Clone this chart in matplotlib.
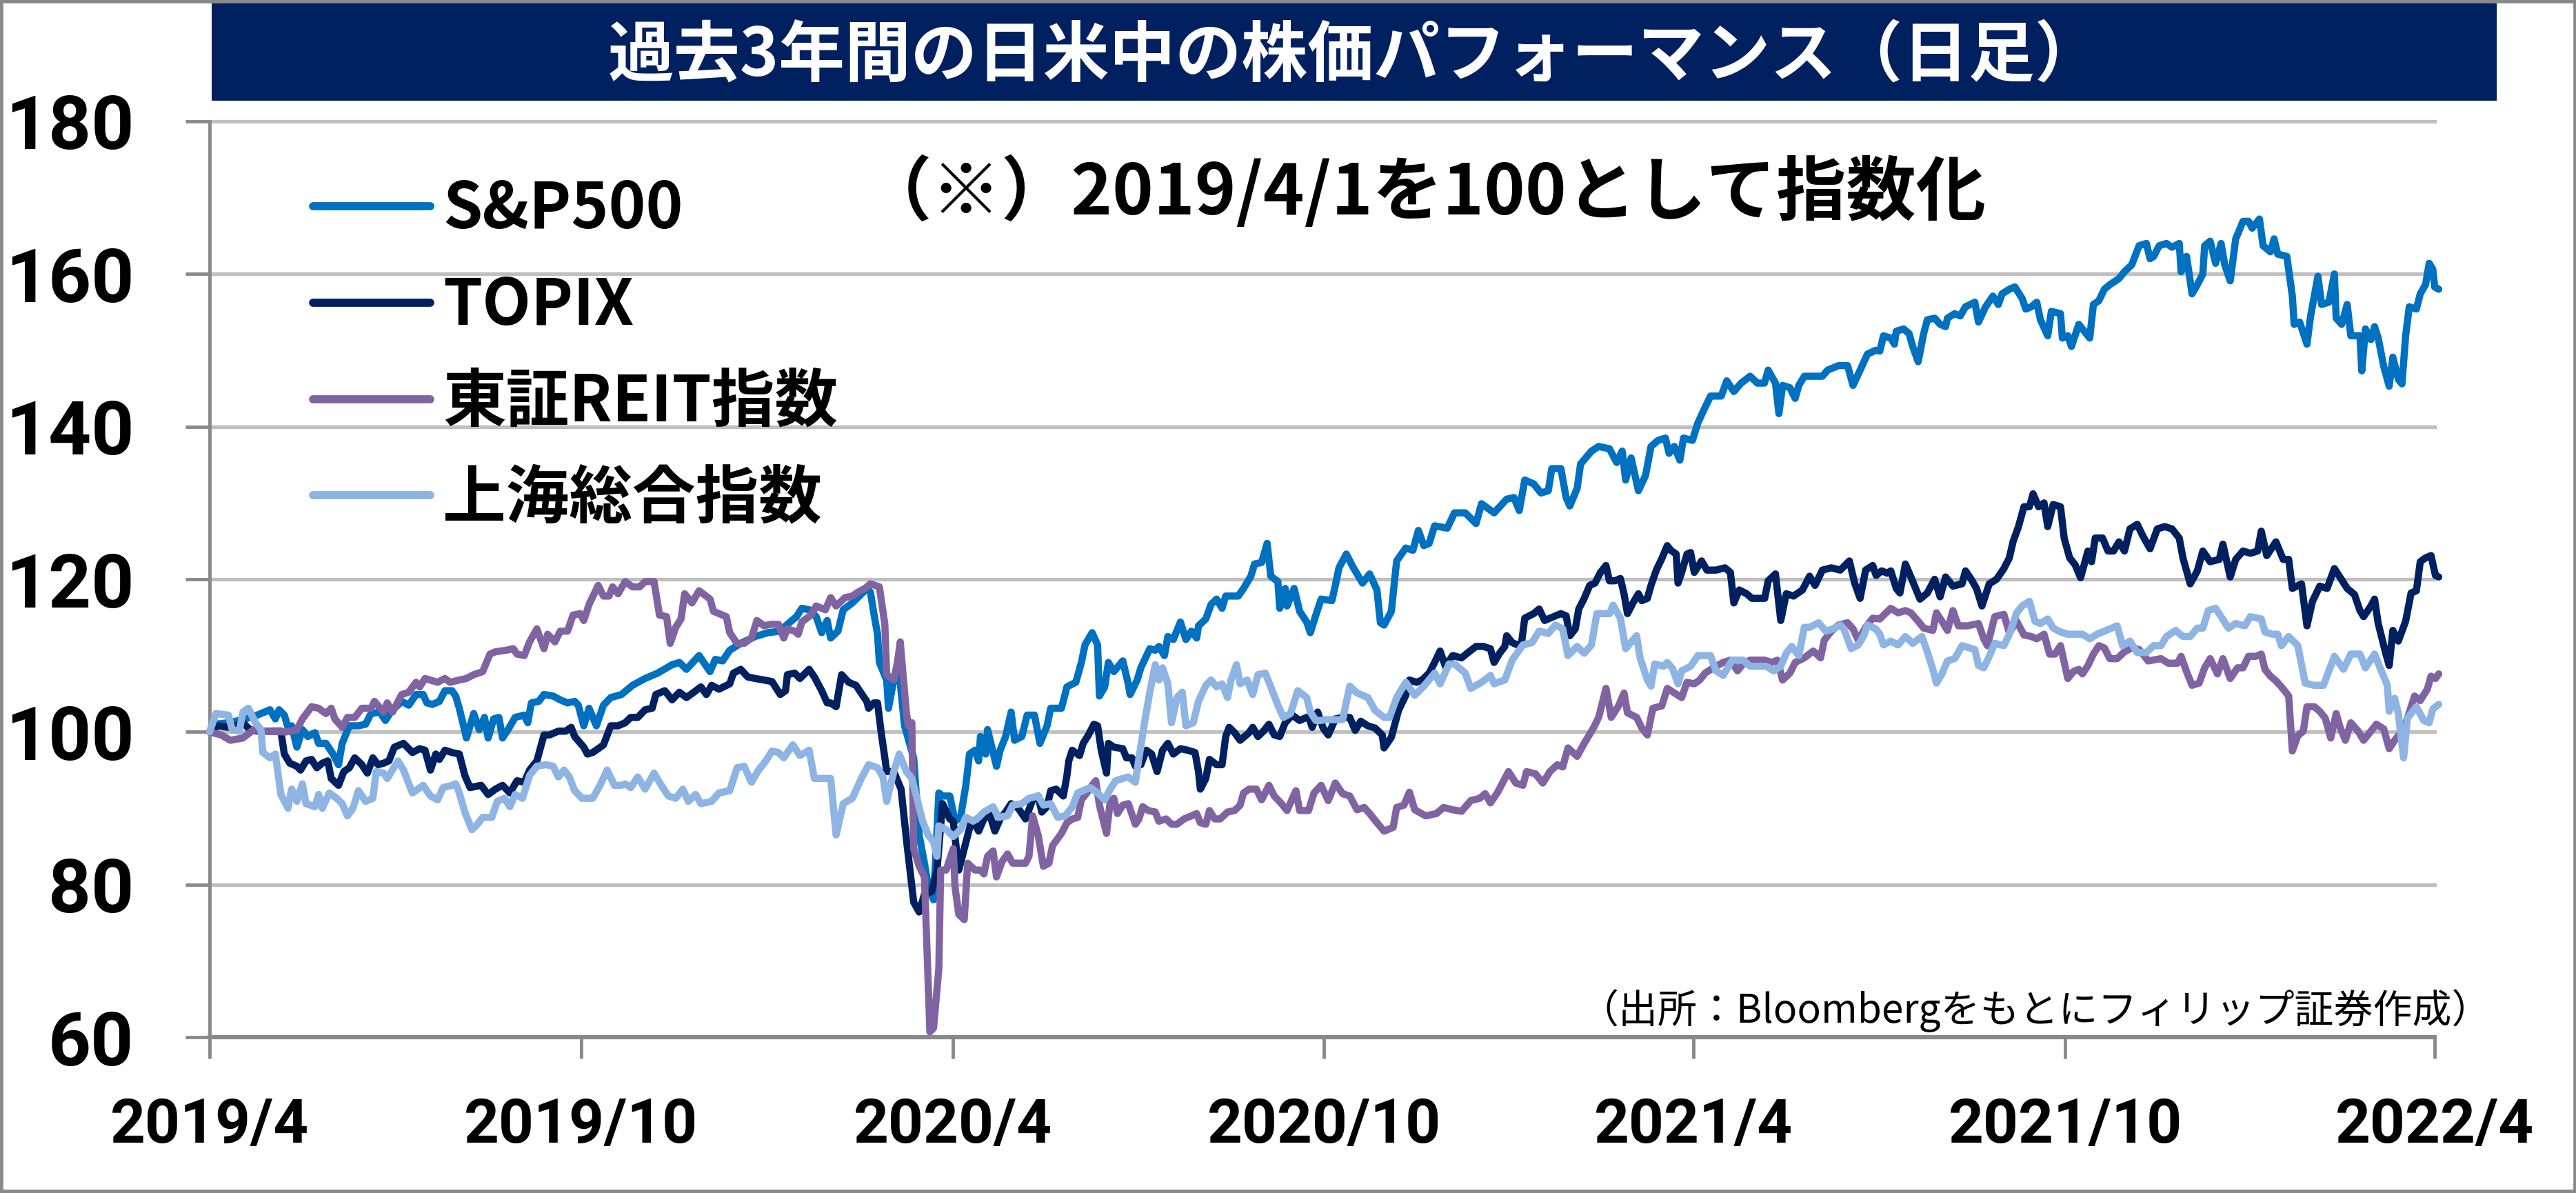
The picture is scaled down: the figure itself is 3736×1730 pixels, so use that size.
import matplotlib
matplotlib.use("Agg")
import matplotlib.pyplot as plt
from matplotlib.patches import Rectangle
from matplotlib.font_manager import FontProperties
import pandas as pd

# ---------------- data (day offset from START, index value) ----------------
START = "2019-04-01"
SERIES_NAMES = ["S&P500", "TOPIX", "東証REIT指数", "上海総合指数"]
SERIES_COLORS = ["#0070C0", "#002060", "#8064A2", "#8EB4E3"]

SP500 = [
(0,100.0),(2.2,101.0),(9.3,101.2),(16.4,101.6),(23.5,102.2),(29.7,102.9),(32.4,101.7),(34.2,102.9),(36.8,102.2),(38.6,100.6),
(40.4,100.8),(43.0,98.0),(45.7,100.3),(48.4,99.4),(51.9,99.9),(53.7,98.5),(57.3,98.5),(60.8,97.1),(63.5,95.7),(65.3,98.5),
(68.8,100.8),(73.3,100.8),(76.8,101.0),(79.5,102.4),(83.9,102.6),(86.6,101.5),(89.2,102.6),(94.6,104.0),(98.1,103.5),(101.7,104.9),
(105.2,104.9),(107.0,103.8),(109.7,103.6),(113.2,104.0),(115.9,105.4),(119.4,105.4),(121.2,104.7),(123.0,103.1),(126.5,99.2),(130.1,102.4),
(132.8,100.3),(135.4,101.9),(137.2,99.2),(139.9,101.7),(142.5,101.9),(144.3,99.2),(147.0,100.3),(150.5,101.9),(155.0,102.2),(156.7,101.2),
(158.5,103.8),(162.1,104.0),(164.7,104.9),(169.2,104.7),(172.7,104.2),(176.3,103.8),(179.8,104.0),(181.6,103.5),(184.3,100.8),(186.9,103.1),
(190.5,100.8),(194.0,103.5),(197.6,104.5),(202.9,104.9),(208.3,106.1),(214.5,107.0),(220.7,107.7),(227.8,108.8),(231.4,109.1),(234.9,108.2),
(241.1,110.0),(246.5,107.9),(249.1,109.5),(252.7,109.3),(256.2,110.7),(261.6,111.6),(268.7,112.5),(275.0,113.0),
(281.1,113.2),(284.6,114.1),(289.1,115.1),(291.7,116.2),(295.3,116.0),(298.8,115.1),(301.5,113.0),(304.2,114.6),(305.9,112.3),(309.5,113.2),
(312.1,116.0),(316.6,116.9),(321.9,118.3),(323.7,118.8),(325.5,118.3),(327.2,115.5),(329.0,112.8),(329.9,109.1),(333.5,106.8),(334.4,103.1),
(337.0,106.8),(339.7,107.7),(342.3,100.8),(346.8,96.6),(349.5,86.5),(352.1,82.8),(353.9,80.0),(356.6,78.0),(359.2,92.0),(361.0,91.6),
(364.6,91.6),(367.2,88.3),(369.9,88.8),(372.5,93.0),(374.3,97.1),(377.0,97.6),(378.8,96.2),(379.7,99.4),(382.3,97.1),(383.2,100.3),
(387.6,95.5),(389.4,97.6),(392.1,99.4),(394.8,102.6),(396.5,98.9),(400.1,99.4),(402.7,102.2),(406.3,102.2),(409.0,98.5),(412.5,100.8),
(414.3,103.1),(419.6,103.1),(422.3,105.9),(426.7,106.5),(429.4,109.1),(431.2,111.4),(434.7,113.0),(437.4,111.4),(438.3,104.7),(440.9,105.9),
(442.7,109.1),(445.4,107.9),(449.8,109.3),(452.5,106.3),(453.4,104.9),(456.9,106.8),(458.7,108.4),(463.1,110.9),(465.8,110.7),(467.6,111.2),
(470.3,110.0),(472.0,112.5),(474.7,112.1),(478.2,114.4),(480.9,112.1),(483.6,113.2),(486.2,112.3),(487.1,113.9),(490.7,114.8),(493.3,116.7),
(496.0,117.4),(498.7,116.2),(500.5,117.8),(506.7,117.8),(509.3,118.8),(512.9,120.4),(514.7,122.0),(518.2,122.2),(520.9,124.7),(522.7,120.4),
(526.2,119.7),(527.1,116.2),(529.8,118.8),(530.7,116.5),(534.2,118.8),(536.9,115.8),(540.4,114.4),(542.2,113.0),(544.9,115.3),(547.5,117.4),
(552.8,117.2),(554.5,119.2),(556.3,121.5),(559.9,123.3),(563.4,121.5),(567.9,119.5),(571.4,120.7),(575.0,118.6),(576.7,114.3),(578.5,114.0),
(582.1,115.8),(584.7,122.4),(589.2,124.1),(592.7,123.8),(595.4,126.4),(598.1,124.4),(600.7,124.7),(603.4,127.0),(609.6,126.7),(613.2,128.7),
(618.5,128.7),(623.8,127.3),(626.5,129.9),(632.7,128.7),(638.9,130.5),(642.5,130.7),(645.1,129.0),(647.8,133.0),(652.2,132.5),(655.8,131.3),
(659.4,131.6),(661.1,134.5),(665.6,134.5),(668.2,130.7),(670.0,129.6),(673.6,131.9),(675.3,135.1),(680.7,136.8),(684.2,137.4),(689.5,137.1),
(693.1,135.3),(695.8,136.8),(697.5,133.0),(700.2,135.9),(703.8,131.6),(707.3,133.6),(710.0,137.4),(713.5,138.2),(717.1,138.5),(718.9,136.5),
(721.5,137.4),(724.2,135.6),(726.0,138.5),(730.4,138.2),(733.1,140.5),(735.7,142.0),(739.3,144.0),(744.6,144.0),(747.3,146.0),(750.8,144.6),
(754.4,145.7),(758.8,146.6),(762.4,145.7),(765.9,145.7),(767.7,147.4),(771.3,145.7),(773.0,141.7),(774.8,145.4),(778.4,145.1),(781.0,143.7),
(782.8,145.4),(785.5,146.6),(794.4,146.6),(797.0,147.4),(802.4,148.0),(806.8,148.0),(809.5,145.4),(813.0,147.4),(816.6,149.5),(820.7,150.0),
(822.7,149.9),(824.5,151.9),(828.1,151.6),(829.9,150.8),(830.8,152.5),(834.4,152.8),(837.1,152.2),(838.9,150.5),(841.6,148.5),(844.3,152.2),
(846.1,154.0),(849.7,154.2),(852.4,153.4),(855.1,153.1),(856.0,154.2),(859.6,154.8),(862.3,154.5),(864.9,155.7),(869.5,156.3),(871.3,153.7),
(874.8,155.7),(878.4,157.1),(881.1,156.0),(882.9,157.4),(886.5,158.0),(889.2,158.3),(892.8,156.8),(894.6,155.4),(897.3,155.7),(900.0,156.3),
(901.8,154.0),(905.4,151.9),(907.2,155.1),(911.7,154.8),(912.6,151.6),(915.3,151.9),(917.1,150.5),(920.7,153.4),(923.4,152.5),(926.1,151.6),
(927.9,156.0),(930.6,156.5),(933.3,158.0),(936.0,158.6),(940.5,159.4),(943.2,160.3),(946.8,161.2),(950.4,163.7),(954.0,164.0),(955.8,162.0),
(957.6,162.3),(960.3,163.7),(963.9,164.0),(966.6,163.5),(970.2,164.0),(971.1,160.3),(973.8,162.3),(976.5,157.4),(979.1,158.6),(981.8,160.0),
(982.7,163.7),(985.4,164.3),(988.1,161.4),(990.8,164.0),(992.6,161.2),(995.3,159.1),(998.0,164.6),(1001.6,166.9),(1004.3,166.9),(1006.1,166.0),
(1009.7,167.2),(1011.5,163.7),(1015.1,162.9),(1016.9,164.6),(1018.7,162.6),(1023.2,162.3),(1025.9,157.1),(1026.8,153.4),(1029.5,153.7),(1033.1,150.8),
(1034.9,154.5),(1038.5,159.7),(1040.3,156.0),(1043.9,156.3),(1046.6,160.0),(1047.5,154.2),(1050.2,153.4),(1052.9,156.0),(1054.7,151.9),(1059.2,151.9),
(1060.1,147.3),(1061.9,152.8),(1064.6,151.4),(1066.4,153.1),(1068.2,151.6),(1070.9,147.9),(1073.6,145.3),(1075.4,149.1),(1078.1,146.2),(1079.9,145.6),
(1081.7,151.9),(1083.5,155.7),(1087.0,155.4),(1088.9,157.4),(1091.5,158.6),(1093.3,161.4),(1095.1,160.6),(1096.0,158.3),(1098.0,158.0),
]

TOPIX = [
(0,100.0),(4.0,100.8),(9.3,100.6),(12.8,100.8),(16.4,101.2),(19.9,100.3),(23.5,100.1),(30.6,100.1),(35.1,100.1),(36.8,97.1),
(39.5,95.9),(43.0,95.5),(44.8,95.0),(47.5,96.2),(50.2,96.4),(52.8,95.3),(55.5,95.9),(58.2,96.2),(59.9,93.9),(63.5,93.0),
(66.1,94.8),(68.8,95.3),(71.5,96.6),(75.0,95.7),(77.7,94.6),(80.4,96.6),(83.0,95.7),(85.7,95.9),(88.3,96.2),(91.0,98.0),
(95.5,98.5),(99.9,97.3),(103.4,97.8),(106.1,97.6),(108.8,95.0),(111.4,97.1),(113.2,96.4),(115.9,97.6),(119.4,97.3),(123.0,97.1),
(125.7,94.3),(128.3,92.7),(133.7,93.0),(137.2,91.8),(140.8,92.5),(144.3,93.0),(147.9,92.0),(151.4,93.6),(155.0,93.4),(157.6,95.0),
(161.2,96.2),(164.7,99.6),(167.4,99.6),(171.8,100.1),(175.4,100.1),(178.1,100.6),(179.8,99.4),(184.3,98.0),(186.1,97.1),(188.7,97.3),
(191.4,97.8),(194.0,98.3),(197.6,100.8),(201.2,100.8),(204.7,101.2),(207.4,101.9),(210.9,101.9),(214.5,102.9),(218.0,103.1),(219.8,104.9),
(224.2,105.4),(227.8,104.2),(231.4,105.2),(234.9,104.5),(238.5,105.2),(242.0,105.9),(244.7,104.9),(247.3,106.1),(250.9,105.6),(256.2,106.3),
(258.0,107.7),(261.6,108.2),(265.1,107.2),(268.7,107.0),(273.1,106.8),(277.0,106.6),
(281.1,104.9),(283.7,105.4),(284.6,107.5),(288.2,107.7),(290.8,107.0),(295.3,108.2),(297.9,107.2),(301.5,105.4),(304.2,103.8),(305.9,103.8),
(308.6,103.3),(311.3,107.5),(314.8,106.5),(318.4,106.1),(321.9,104.7),(323.7,104.0),(324.6,103.1),(327.2,103.8),(329.0,103.8),(330.8,99.9),
(332.6,96.6),(333.5,94.8),(337.0,94.8),(340.6,92.5),(343.2,86.0),(346.8,77.7),(349.5,76.4),(352.1,78.7),(355.7,79.1),(358.3,81.9),
(361.0,90.6),(364.6,88.6),(366.3,88.3),(369.0,81.9),(371.7,84.7),(375.2,88.3),(377.0,87.9),(378.8,87.0),(381.4,88.6),(384.1,89.3),
(386.8,87.0),(389.4,88.6),(392.1,89.5),(394.8,90.6),(398.3,90.0),(401.9,88.6),(405.4,91.1),(408.1,91.6),(409.9,89.5),(412.5,90.2),
(414.3,92.3),(417.0,92.5),(420.5,91.6),(422.3,94.3),(423.2,96.2),(424.9,97.6),(428.5,96.9),(430.3,98.5),(432.9,99.6),(435.6,101.0),
(437.4,100.8),(439.2,97.6),(441.8,94.6),(442.7,98.5),(445.4,98.0),(449.8,97.8),(451.6,96.6),(454.3,96.6),(456.0,95.5),(458.7,95.7),
(461.4,97.6),(464.0,97.1),(466.7,94.8),(469.4,97.6),(472.0,98.5),(474.7,97.1),(478.2,97.8),(481.8,97.6),(485.4,97.3),(487.1,94.8),
(488.0,92.5),(490.7,93.9),(492.5,96.4),(496.0,95.7),(498.7,95.7),(500.5,99.4),(502.2,100.6),(504.9,99.9),(507.6,98.9),(512.0,99.9),
(513.8,100.6),(516.4,99.4),(519.1,100.1),(521.8,101.0),(524.4,99.6),(527.1,99.4),(529.8,101.2),(533.3,102.2),(536.9,101.5),(541.3,102.0),
(543.1,100.6),(545.8,102.6),(548.5,100.5),
(551.0,99.6),(554.5,101.7),(558.1,101.9),(561.6,101.9),(564.3,100.2),(567.0,101.4),(570.5,100.8),(574.1,100.5),(577.6,99.6),(578.5,97.9),
(582.1,99.3),(585.6,102.8),(589.2,104.8),(591.0,106.8),(594.5,106.5),(597.2,106.8),(600.7,107.7),(603.4,109.1),(606.1,110.6),(608.7,108.6),
(612.3,110.0),(616.7,109.7),(619.4,110.3),(623.8,111.2),(627.4,111.2),(630.9,110.9),(632.7,109.1),(635.4,110.3),(638.0,111.2),(638.9,112.6),
(641.6,111.7),(646.0,111.2),(647.8,114.9),(652.2,115.5),(654.9,116.1),(657.6,114.6),(660.2,114.9),(665.6,115.5),(668.2,115.2),(670.0,112.6),
(672.7,113.5),(674.4,116.1),(677.1,117.5),(679.8,119.2),(682.4,119.5),(685.1,120.9),(687.8,121.8),(689.5,119.8),(692.2,119.8),(694.9,120.1),
(696.7,118.1),(698.4,115.5),(701.1,116.9),(703.8,118.1),(705.5,117.2),(708.2,117.5),(710.0,119.2),(712.6,121.2),(715.3,122.7),(718.0,124.4),
(719.7,123.8),(722.4,123.3),(723.3,119.5),(725.1,120.9),(727.7,123.3),(729.5,123.5),(731.3,120.9),(734.9,122.4),(737.5,121.2),(742.0,121.2),
(746.4,121.5),(749.1,120.9),(750.8,116.9),(753.5,118.6),(757.1,118.1),(759.7,117.5),(766.0,117.5),(767.7,119.8),(771.3,120.7),(773.9,114.6),
(776.6,118.1),(780.2,117.8),(784.6,118.6),(788.1,120.4),(790.8,119.2),(794.4,121.2),(798.8,121.5),(803.2,121.2),(807.7,122.4),(810.3,119.5),
(813.0,117.5),(815.7,121.2),(819.2,121.8),
(820.9,120.5),(823.6,121.1),(826.3,120.8),(828.1,121.1),(830.8,118.8),(832.6,118.2),(835.3,122.0),(838.0,120.3),(842.5,117.4),(846.1,118.2),
(849.7,120.0),(852.4,117.7),(855.1,120.3),(858.7,119.1),(863.2,119.4),(864.9,121.1),(867.7,120.0),(870.3,118.8),(873.0,116.5),(876.6,119.4),
(880.2,120.0),(883.8,121.4),(886.5,122.8),(888.3,124.9),(891.0,126.9),(893.7,129.5),(896.4,129.5),(898.2,131.2),(900.9,129.5),(903.6,130.0),
(905.4,126.9),(908.1,129.8),(911.7,129.5),(913.5,125.4),(916.2,122.8),(918.9,121.9),(921.6,120.2),(925.2,123.7),(927.0,122.3),(928.8,125.4),
(932.4,125.4),(935.1,123.7),(937.8,123.7),(940.5,124.9),(943.2,123.7),(945.9,126.6),(949.5,127.2),(952.2,125.7),(955.8,124.0),(959.4,126.6),
(963.0,126.9),(966.6,126.6),(970.2,125.4),(972.0,122.8),(975.6,119.4),(979.1,121.1),(981.8,123.7),(985.4,122.3),(989.9,122.6),(991.7,124.6),
(995.3,120.3),(998.0,122.6),(1001.6,123.7),(1005.2,123.4),(1008.8,123.7),(1010.6,126.3),(1013.3,123.1),(1017.8,124.9),(1021.4,122.6),(1024.1,122.6),
(1025.9,118.8),(1030.4,119.4),(1033.1,113.9),(1035.8,117.1),(1039.4,119.1),(1043.0,118.8),(1046.6,121.4),(1049.3,120.3),(1052.9,118.8),(1056.5,118.0),
(1059.2,115.9),(1061.0,115.1),(1064.6,116.5),(1066.4,117.4),(1068.2,114.2),(1071.8,110.4),(1073.6,108.7),(1075.4,113.3),(1078.1,111.9),(1081.7,114.5),
(1084.4,118.2),(1087.0,118.5),(1088.9,122.3),(1091.5,122.8),(1094.2,123.1),(1096.4,120.5),(1098.0,120.3),
]

REIT = [
(0,100.0),(5.7,99.6),(10.2,98.9),(16.4,99.2),(21.7,100.3),(25.3,100.1),(37.7,100.0),(43.0,100.3),(45.7,101.7),(50.2,103.3),
(53.7,103.1),(57.3,102.4),(59.9,103.1),(61.7,101.7),(65.3,100.6),(67.9,101.9),(71.5,101.9),(75.0,103.1),(79.5,103.1),(81.2,104.0),
(85.7,102.6),(87.5,103.8),(90.1,102.6),(94.6,104.9),(98.1,105.2),(101.7,106.5),(103.5,105.9),(106.1,107.0),(112.3,106.5),(115.9,107.0),
(118.5,106.5),(123.0,106.8),(126.5,107.0),(130.1,107.5),(134.5,107.9),(138.1,110.2),(140.8,110.5),(146.1,110.7),(149.6,110.9),(151.4,110.2),
(155.0,110.0),(157.6,111.8),(161.2,113.5),(164.7,110.9),(166.5,112.8),(170.1,111.8),(172.7,113.2),(176.3,113.2),(179.0,115.3),(182.5,115.5),
(184.3,114.6),(186.9,116.7),(191.4,119.2),(194.0,117.8),(196.7,117.8),(198.5,119.0),(201.2,118.1),(204.7,119.7),(208.3,119.0),(211.8,119.0),
(214.5,119.7),(218.9,119.7),(221.6,115.3),(225.1,115.1),(226.9,111.6),(229.6,113.7),(232.2,114.8),(234.0,118.1),(237.6,116.9),(241.1,118.5),
(246.5,117.4),(248.2,115.8),(254.5,115.1),(256.2,113.0),(259.8,111.6),(263.3,111.6),(266.9,112.3),(269.6,114.6),(273.1,113.9),(276.5,114.1),
(280.2,114.1),(282.8,112.3),(284.6,113.5),(288.2,113.2),(289.9,112.8),(291.7,114.4),(296.2,115.3),(298.8,116.5),(303.3,116.0),(305.9,117.6),
(308.6,116.5),(313.0,117.6),(316.6,117.8),(319.3,118.3),(322.8,118.8),(325.5,119.4),(329.9,119.0),(332.6,114.1),(333.5,107.5),(337.0,106.8),
(338.8,109.1),(340.2,111.8),(341.5,107.7),(343.2,102.6),(344.1,100.8),(345.9,101.2),(346.8,84.7),(349.5,82.4),(352.1,81.0),(354.8,60.7),
(356.6,61.2),(359.2,69.0),(360.1,81.9),(362.8,81.9),(366.3,84.7),(367.2,79.6),(369.0,76.1),(371.7,75.4),(373.4,82.8),(377.0,81.9),
(379.7,81.9),(381.4,81.4),(383.2,83.7),(385.9,84.4),(387.6,81.0),(390.3,83.0),(393.0,84.0),(395.6,82.8),(401.9,82.8),(403.6,83.7),
(405.4,89.0),(408.1,86.5),(410.7,82.4),(413.4,82.8),(415.2,85.1),(419.6,86.7),(422.3,88.1),(425.0,88.6),(427.6,88.8),(429.4,91.1),
(432.1,92.0),(434.7,93.0),(436.5,93.6),(438.3,90.4),(441.8,86.7),(443.6,90.9),(445.4,91.3),(447.2,89.3),(449.8,90.4),(452.5,90.6),
(456.0,87.9),(457.8,88.6),(459.6,90.2),(462.3,89.7),(465.8,89.5),(467.6,88.3),(471.1,88.6),(473.8,87.9),(476.5,87.9),(480.0,88.6),
(483.6,89.0),(486.2,89.3),(488.0,88.1),(490.7,87.9),(492.5,89.7),(495.1,88.6),(497.8,88.6),(501.4,89.5),(504.9,89.7),(507.6,90.4),
(509.3,92.0),(512.0,92.5),(515.6,92.5),(518.2,91.1),(521.8,93.0),(524.4,91.6),(528.0,90.6),(530.7,89.7),(535.1,92.3),(536.9,89.7),
(541.3,89.7),(544.0,92.0),(547.5,93.0),
(551.0,91.0),(554.5,93.3),(558.1,91.9),(561.6,91.6),(565.2,89.8),(568.7,90.1),(571.4,89.3),(574.1,88.4),(578.5,87.0),(583.0,87.5),
(584.7,90.1),(588.3,90.4),(591.0,92.1),(593.6,89.8),(599.0,89.0),(604.3,89.3),(607.8,90.1),(612.3,89.8),(616.7,89.6),(621.2,91.0),
(625.6,91.3),(628.3,91.9),(630.9,90.7),(634.5,92.1),(638.0,93.9),(639.8,94.8),(643.4,93.3),(646.9,93.0),(648.7,94.8),(653.1,94.5),
(656.7,93.3),(660.2,94.8),(663.8,95.7),(666.5,95.4),(669.1,97.9),(673.6,96.8),(677.1,98.5),(681.6,100.5),(684.2,101.9),(687.8,105.7),
(690.4,101.9),(694.0,103.4),(696.7,105.1),(698.4,102.5),(702.9,101.9),(705.5,100.5),(708.2,99.6),(710.9,103.1),(715.3,103.4),(718.0,105.7),
(721.5,105.1),(725.1,104.5),(727.7,106.5),(731.3,106.3),(734.0,106.8),(736.6,107.7),(742.0,108.6),(745.5,109.1),(749.1,109.4),(752.6,108.0),
(755.3,108.9),(758.8,109.4),(765.9,109.4),(769.5,109.1),(772.2,109.4),(774.8,106.8),(778.4,107.7),(781.0,109.1),(785.5,109.7),(789.9,110.6),
(793.5,109.7),(795.3,112.0),(798.8,113.2),(802.4,114.0),(806.8,114.3),(809.5,113.5),(812.1,112.0),(815.7,113.7),(819.2,114.9),
(822.7,114.8),(828.1,116.2),(831.7,115.6),(835.3,115.9),(838.0,115.6),(841.6,114.5),(844.3,113.6),(848.8,113.3),(850.6,115.6),(853.3,114.5),
(856.0,113.3),(858.7,115.9),(861.4,113.9),(865.9,113.9),(871.3,114.2),(873.9,112.2),(875.7,111.3),(879.3,115.1),(883.8,115.4),(886.5,113.0),
(890.1,114.5),(893.7,112.7),(897.3,112.5),(900.0,112.2),(903.6,112.8),(906.3,110.2),(909.0,110.2),(911.7,111.3),(915.3,107.0),(918.0,107.9),
(920.7,108.2),(922.5,107.6),(925.2,108.7),(927.9,110.2),(930.6,111.3),(933.3,111.0),(936.0,109.6),(939.6,109.6),(943.2,110.5),(946.8,111.0),
(950.4,110.8),(954.9,109.3),(961.2,109.6),(964.8,109.0),(969.3,109.0),(971.1,109.9),(973.8,107.9),(976.5,106.1),(980.0,106.4),(982.7,108.4),
(985.4,109.6),(989.0,107.6),(991.7,109.6),(995.3,107.0),(998.9,108.4),(1001.6,108.4),(1004.3,109.9),(1007.9,109.9),(1010.6,110.2),(1012.4,108.2),
(1015.1,107.3),(1017.8,106.7),(1020.5,105.9),(1024.1,104.7),(1025.9,97.5),(1028.6,99.5),(1031.3,100.1),(1033.1,103.3),(1036.7,103.3),(1039.4,102.7),
(1042.1,101.8),(1044.8,99.2),(1047.5,102.4),(1049.3,100.7),(1052.0,98.9),(1054.7,101.2),(1058.3,100.1),(1061.0,98.9),(1063.7,99.8),(1067.3,101.0),
(1070.9,100.4),(1073.6,97.8),(1076.3,98.9),(1079.9,100.1),(1082.6,101.8),(1086.1,104.7),(1088.9,104.1),(1092.4,105.6),(1094.2,107.3),(1096.4,107.0),
(1098.0,107.6),
]

SHANGHAI = [
(0,100.0),(3.1,102.4),(9.3,102.2),(11.1,100.3),(14.6,100.1),(16.4,102.6),(19.1,103.1),(22.6,101.2),(25.3,100.3),(26.2,97.3),
(29.7,96.6),(32.4,97.1),(35.1,91.8),(38.6,90.0),(40.4,92.5),(43.0,90.9),(45.7,93.2),(47.5,90.6),(51.9,90.2),(53.7,91.8),
(55.5,90.0),(59.0,92.0),(62.6,91.3),(65.3,90.6),(67.9,89.0),(70.6,90.0),(73.3,92.3),(76.8,90.9),(80.4,91.3),(82.1,94.8),
(85.7,94.6),(87.5,93.9),(92.8,96.2),(95.5,95.0),(99.9,92.0),(105.2,93.0),(108.8,91.6),(112.3,91.1),(115.0,92.7),(119.4,93.0),
(121.2,93.2),(123.0,92.0),(125.7,89.5),(129.2,87.2),(131.9,87.9),(134.5,88.8),(139.0,88.8),(141.7,90.9),(145.2,91.3),(147.9,90.2),
(150.5,91.8),(154.1,91.3),(157.6,94.3),(161.2,95.5),(165.6,95.7),(169.2,95.5),(171.8,94.1),(174.5,95.0),(177.2,94.1),(179.8,92.3),
(183.4,91.3),(188.7,91.3),(192.3,93.0),(195.8,95.0),(199.4,93.0),(202.9,93.0),(204.7,93.2),(207.4,92.7),(210.9,94.1),(214.5,92.5),
(218.9,94.6),(222.5,93.0),(226.0,91.6),(229.6,91.3),(233.1,92.5),(235.8,90.9),(239.4,91.8),(242.0,90.6),(247.3,90.9),(250.9,92.0),
(256.2,92.3),(259.8,95.3),(263.3,95.5),(266.9,93.4),(270.4,95.0),(274.0,96.2),(277.0,97.5),
(280.2,97.3),(282.8,96.6),(287.3,98.3),(290.8,96.9),(295.3,97.6),(297.9,93.9),(305.9,93.9),(308.6,86.5),(312.1,90.6),(316.6,91.3),
(321.0,93.9),(324.6,95.7),(329.0,95.3),(331.7,94.1),(333.5,90.9),(337.0,94.8),(339.7,97.1),(343.2,94.8),(345.9,93.9),(348.6,91.1),
(351.2,88.3),(353.9,86.5),(356.6,85.6),(358.3,83.7),(359.2,87.7),(362.8,87.2),(366.3,86.3),(369.9,87.2),(372.5,88.8),(376.1,88.3),
(378.8,88.8),(381.4,89.5),(385.9,90.2),(388.5,88.8),(393.0,89.0),(395.6,90.4),(400.1,90.6),(403.6,91.3),(408.1,91.6),(410.7,90.4),
(414.3,90.6),(417.8,88.8),(421.4,89.0),(425.0,90.2),(427.6,92.0),(430.3,92.3),(433.8,92.7),(437.4,92.0),(440.9,91.1),(443.6,92.5),
(446.3,93.6),(449.8,93.9),(452.5,94.1),(456.0,93.4),(457.8,96.6),(460.5,101.2),(463.1,105.2),(465.8,108.8),(467.6,106.8),(469.4,108.4),
(472.0,106.3),(473.8,101.2),(476.5,104.5),(479.1,105.2),(480.9,100.8),(484.5,101.2),(487.1,104.0),(490.7,106.1),(493.3,106.8),(496.0,105.9),
(498.7,106.3),(501.4,104.5),(503.1,106.8),(505.8,108.8),(507.6,106.3),(511.1,106.8),(513.8,104.9),(516.4,107.5),(520.0,107.7),(522.7,105.9),
(526.2,103.5),(528.9,101.9),(532.4,102.4),(536.0,105.4),(540.4,104.5),(542.2,102.6),(544.9,101.5),(547.5,101.5),
(549.2,101.6),(558.1,101.6),(561.6,106.0),(565.2,105.1),(570.5,104.5),(574.1,102.8),(578.5,101.9),(581.2,101.9),(584.7,104.5),(589.2,106.5),
(593.6,104.8),(598.1,106.0),(603.4,107.7),(606.1,106.3),(610.5,108.9),(613.2,108.9),(618.5,107.7),(621.2,105.7),(626.5,106.5),(630.9,107.4),
(632.7,106.3),(638.0,106.8),(641.6,109.4),(646.9,111.4),(651.4,111.7),(654.9,113.2),(659.4,112.9),(662.9,114.0),(666.5,113.5),(669.1,110.0),
(673.6,111.2),(677.1,110.3),(680.7,111.4),(683.3,115.5),(689.6,115.5),(691.3,116.6),(694.9,114.9),(697.5,110.9),(702.9,112.6),(704.6,109.7),
(708.2,106.8),(710.0,106.0),(711.8,108.9),(716.2,108.6),(718.0,109.1),(720.6,108.3),(723.3,106.3),(725.1,108.0),(729.5,108.6),(733.1,110.0),
(739.3,110.0),(742.0,108.0),(745.5,107.4),(750.0,109.4),(755.3,109.4),(758.8,108.6),(766.8,108.6),(770.4,108.0),(773.9,108.6),(776.6,110.3),
(779.3,111.2),(782.8,110.0),(785.5,113.7),(788.1,113.7),(792.6,114.3),(796.1,113.2),(799.7,113.5),(803.2,114.0),(805.0,113.5),(808.6,110.9),
(812.1,111.4),(814.8,112.6),(816.6,114.0),(820.7,113.5),
(822.7,112.8),(824.5,111.4),(828.1,111.9),(831.7,111.4),(835.3,112.5),(838.9,111.6),(843.4,112.5),(846.1,110.5),(848.8,108.2),(850.6,106.4),
(853.3,107.6),(856.0,109.3),(859.6,109.6),(863.2,111.3),(869.5,110.8),(871.3,108.7),(873.9,108.4),(876.6,109.9),(879.3,111.6),(883.8,111.3),
(886.5,112.8),(890.1,115.6),(892.8,116.5),(896.4,117.1),(899.1,114.5),(901.8,114.2),(905.4,114.8),(908.1,113.6),(911.7,113.1),(915.3,112.8),
(922.5,112.8),(926.1,112.2),(929.7,112.8),(934.2,113.3),(939.6,113.9),(942.3,111.3),(945.9,111.9),(949.5,110.4),(954.0,110.4),(957.6,111.3),
(961.2,111.3),(963.9,112.5),(968.4,113.3),(972.0,112.5),(975.6,112.5),(979.1,113.6),(981.8,113.6),(984.5,115.9),(988.1,116.2),(990.8,115.1),
(994.4,113.6),(998.0,114.2),(1002.5,113.9),(1005.2,115.1),(1010.6,114.8),(1012.4,113.1),(1016.0,112.8),(1018.7,112.8),(1020.5,111.3),(1024.1,112.5),
(1028.6,111.3),(1032.2,106.4),(1036.7,106.1),(1041.2,106.1),(1046.6,109.9),(1051.1,108.2),(1054.7,110.2),(1059.2,110.2),(1061.9,108.4),(1066.4,110.2),
(1069.1,108.4),(1072.7,106.1),(1073.6,102.7),(1076.3,104.4),(1078.1,102.4),(1080.7,96.6),(1082.6,101.8),(1087.0,103.3),(1090.6,101.5),(1093.3,101.2),
(1095.1,103.0),(1098.0,103.6),
]

X_TICK_DATES = ["2019-04-01", "2019-10-01", "2020-04-01", "2020-10-01", "2021-04-01", "2021-10-01", "2022-04-01"]
X_TICK_LABELS = ["2019/4", "2019/10", "2020/4", "2020/10", "2021/4", "2021/10", "2022/4"]
Y_TICKS = [60, 80, 100, 120, 140, 160, 180]

TITLE = "過去3年間の日米中の株価パフォーマンス（日足）"
NOTE = "（※）2019/4/1を100として指数化"
SOURCE = "（出所：Bloombergをもとにフィリップ証券作成）"

# ---------------- plotting ----------------
JP = ["Noto Sans CJK JP", "DejaVu Sans"]
NUM = ["Roboto", "DejaVu Sans"]
AXIS_GRAY = "#898989"
GRID_GRAY = "#BFBFBF"

start = pd.Timestamp(START)

def to_dates(pairs):
    days = [p[0] for p in pairs]
    vals = [p[1] for p in pairs]
    return start + pd.to_timedelta(days, unit="D"), vals

fig = plt.figure(figsize=(37.37, 17.30), dpi=100)
ax = fig.add_axes([0.08135, 0.1306, 0.86353, 0.7677])

lines = []
for data, name, col in zip([SP500, TOPIX, REIT, SHANGHAI], SERIES_NAMES, SERIES_COLORS):
    d, v = to_dates(data)
    ln, = ax.plot(d, v, color=col, lw=7.5, label=name, solid_joinstyle="round",
                  solid_capstyle="round", zorder=3, clip_on=False)
    lines.append(ln)

ax.set_ylim(60, 180)
ax.set_xlim(start, pd.Timestamp(X_TICK_DATES[-1]))

for yv in Y_TICKS[1:]:
    ax.axhline(yv, color=GRID_GRAY, lw=3.8, zorder=1, clip_on=False)

for side in ["top", "right"]:
    ax.spines[side].set_visible(False)
ax.spines["left"].set_color(AXIS_GRAY)
ax.spines["left"].set_linewidth(3.5)
ax.spines["bottom"].set_color(AXIS_GRAY)
ax.spines["bottom"].set_linewidth(4.5)
ax.spines["bottom"].set_zorder(2)

ax.set_yticks(Y_TICKS)
ax.set_yticklabels([str(t) for t in Y_TICKS], fontfamily=NUM, fontweight="bold", fontsize=78)
ax.set_xticks(pd.to_datetime(X_TICK_DATES))
ax.set_xticklabels(X_TICK_LABELS, fontfamily=NUM, fontweight="bold", fontsize=64)
ax.tick_params(axis="y", direction="out", length=25, width=3.5, color=AXIS_GRAY, pad=54)
ax.tick_params(axis="x", direction="out", length=22, width=3.5, color=AXIS_GRAY, pad=40)

leg = ax.legend(handles=lines, loc="upper left", bbox_to_anchor=(0.1215, 0.8514),
                bbox_transform=fig.transFigure, frameon=False, borderpad=0, borderaxespad=0,
                handlelength=1.85, handletextpad=0.2, labelspacing=0.5,
                prop=FontProperties(family=JP, weight="bold", size=66))
for lh in leg.get_lines():
    lh.set_linewidth(8.5)

# title bar
fig.patches.append(Rectangle((0.0822, 0.9156), 0.8868, 0.0827, transform=fig.transFigure,
                             facecolor="#002060", edgecolor="none", zorder=0))
fig.text(0.5256, 0.9532, TITLE, ha="center", va="center", color="white",
         fontsize=69, fontfamily=JP, fontweight="bold")

fig.text(0.5526, 0.838, NOTE, ha="center", va="center", color="black",
         fontsize=73, fontfamily=JP, fontweight="bold")
fig.text(0.9668, 0.1347, SOURCE, ha="right", va="bottom", color="black",
         fontsize=41, fontfamily=JP)

# outer frame
fig.patches.append(Rectangle((0, 0), 1, 1, transform=fig.transFigure, fill=False,
                             edgecolor=AXIS_GRAY, lw=7, zorder=10))

fig.savefig("out.png", dpi=100)
